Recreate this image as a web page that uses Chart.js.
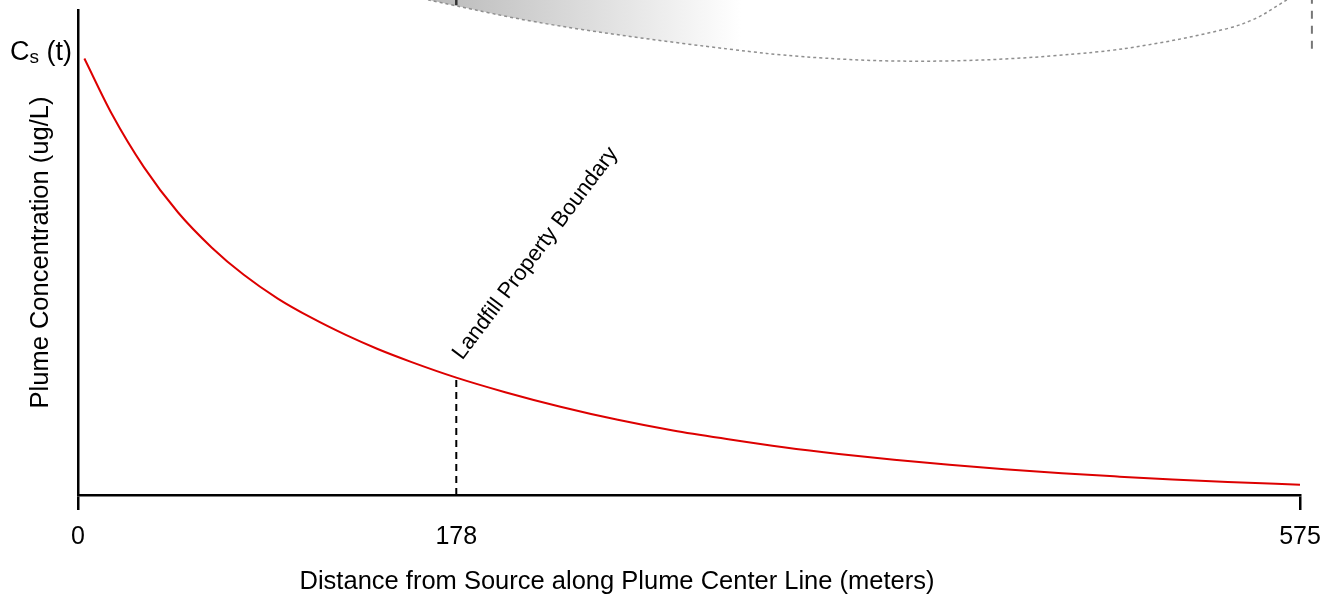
<!DOCTYPE html>
<html>
<head>
<meta charset="utf-8">
<script src="https://cdn.jsdelivr.net/npm/chart.js@4.4.1/dist/chart.umd.min.js"></script>
<style>
  html, body { margin: 0; padding: 0; background: #fff; }
  #wrap { width: 1342px; height: 598px; }
</style>
</head>
<body>
<div id="wrap"><canvas id="chart" width="1342" height="598"></canvas></div>
<script>
/* global Chart */
// distance along plume centre line (m) vs concentration (relative, ug/L)
const distance = [3, 16, 31, 47, 63, 78, 94, 110, 126, 141, 157, 178, 201, 227, 254, 280, 306, 332, 358, 384, 410, 436, 463, 489, 515, 541, 575];
const concentration = [90.0, 78.5, 67.6, 58.3, 51.0, 45.4, 40.5, 36.5, 33.0, 30.1, 27.4, 24.2, 21.2, 18.2, 15.5, 13.3, 11.5, 9.85, 8.45, 7.25, 6.22, 5.29, 4.48, 3.81, 3.19, 2.68, 2.12];
const xTicks = [0, 178, 575];
const tickMarks = [0, 575];

const boundaryX = 178;
const boundaryConc = 24.2;
const sourceConc = 92; // level of the C_s(t) label

// plan-view plume outline that peeks in at the top of the figure
const plumeEdgeX = [164.7, 176.4, 214.1, 261.1, 308.2, 339.7, 385.3, 433.8, 480.9, 504.4, 527.9, 551.4, 568.8];
const plumeEdgeY = [102.1, 101.0, 97.5, 94.4, 91.8, 90.3, 89.3, 89.7, 91.3, 92.8, 94.8, 97.3, 102.1];
const planBoundaryY = [101, 103];
const planEndX = 580.6;
const planEndY = [92, 103];

const FONT = "'Liberation Sans', Arial, Helvetica, sans-serif";
const $ = (id) => document.getElementById(id);

const plumePlugin = {
  id: "plume",
  beforeDatasetsDraw(chart) {
    const { ctx, scales: { x, y } } = chart;
    const pts = plumeEdgeX.map((v, i) => [x.getPixelForValue(v), y.getPixelForValue(plumeEdgeY[i])]);

    const tracePath = () => {
      ctx.moveTo(pts[0][0], pts[0][1]);
      for (let i = 1; i < pts.length - 1; i++) {
        const mx = (pts[i][0] + pts[i + 1][0]) / 2;
        const my = (pts[i][1] + pts[i + 1][1]) / 2;
        ctx.quadraticCurveTo(pts[i][0], pts[i][1], mx, my);
      }
      const last = pts[pts.length - 1];
      ctx.lineTo(last[0], last[1]);
    };

    ctx.save();
    // gradient fill
    const g = ctx.createLinearGradient(x.getPixelForValue(165), 0, x.getPixelForValue(312), 0);
    g.addColorStop(0, "#b9b9b9");
    g.addColorStop(1, "#ffffff");
    ctx.beginPath();
    ctx.moveTo(pts[0][0], -2);
    ctx.lineTo(pts[0][0], pts[0][1]);
    tracePath();
    ctx.lineTo(pts[pts.length - 1][0], -2);
    ctx.closePath();
    ctx.fillStyle = g;
    ctx.fill();

    // dotted outline
    ctx.beginPath();
    tracePath();
    ctx.setLineDash([3, 3]);
    ctx.lineWidth = 1.5;
    ctx.strokeStyle = "#8f8f8f";
    ctx.stroke();

    // end of the boundary line in plan view
    ctx.setLineDash([]);
    ctx.beginPath();
    ctx.moveTo(x.getPixelForValue(boundaryX), y.getPixelForValue(planBoundaryY[0]));
    ctx.lineTo(x.getPixelForValue(boundaryX), y.getPixelForValue(planBoundaryY[1]));
    ctx.lineWidth = 2.5;
    ctx.strokeStyle = "#333";
    ctx.stroke();

    // dashed line at far end
    ctx.beginPath();
    ctx.setLineDash([8, 7]);
    ctx.moveTo(x.getPixelForValue(planEndX), y.getPixelForValue(planEndY[0]));
    ctx.lineTo(x.getPixelForValue(planEndX), y.getPixelForValue(planEndY[1]));
    ctx.lineWidth = 2;
    ctx.strokeStyle = "#777";
    ctx.stroke();
    ctx.restore();
  },
};

const textPlugin = {
  id: "texts",
  afterDraw(chart) {
    const { ctx, scales: { x, y }, chartArea } = chart;
    ctx.save();
    ctx.fillStyle = "#000";

    // x axis title (sits left of centre in the original)
    ctx.font = `25.5px ${FONT}`;
    ctx.textAlign = "center";
    ctx.textBaseline = "middle";
    ctx.fillText("Distance from Source along Plume Center Line (meters)", 617, 582);

    // C_s (t)
    const big = `27px ${FONT}`;
    const small = `19px ${FONT}`;
    ctx.textAlign = "left";
    ctx.textBaseline = "alphabetic";
    ctx.font = big;
    const wC = ctx.measureText("C").width;
    const wT = ctx.measureText(" (t)").width;
    ctx.font = small;
    const wS = ctx.measureText("s").width;
    const right = chartArea.left - 6;
    const base = y.getPixelForValue(sourceConc) + 11;
    let cx = right - (wC + wS + wT);
    ctx.font = big;
    ctx.fillText("C", cx, base);
    cx += wC;
    ctx.font = small;
    ctx.fillText("s", cx, base + 3);
    cx += wS;
    ctx.font = big;
    ctx.fillText(" (t)", cx, base);

    // boundary label
    ctx.font = `22px ${FONT}`;
    ctx.translate(x.getPixelForValue(boundaryX) + 6, y.getPixelForValue(boundaryConc) - 17);
    ctx.rotate(-53 * Math.PI / 180);
    ctx.fillText("Landfill Property Boundary", 0, 0);
    ctx.restore();
  },
};

function makeChart() {
  return new Chart($("chart"), {
    type: "line",
    data: {
      datasets: [
        {
          data: distance.map((d, i) => ({ x: d, y: concentration[i] })),
          borderColor: "#dd0000",
          borderWidth: 2,
          pointRadius: 0,
          cubicInterpolationMode: "monotone",
        },
        {
          data: [{ x: boundaryX, y: 0 }, { x: boundaryX, y: boundaryConc }],
          borderColor: "#000",
          borderWidth: 2,
          borderDash: [7, 5],
          pointRadius: 0,
        },
      ],
    },
    options: {
      responsive: false,
      animation: false,
      layout: { padding: { top: 10, right: 42, left: 0, bottom: 0 } },
      plugins: { legend: { display: false }, tooltip: { enabled: false } },
      scales: {
        x: {
          type: "linear",
          min: 0,
          max: 575,
          afterBuildTicks: (s) => { s.ticks = xTicks.map((v) => ({ value: v })); },
          afterFit: (s) => { s.height = 103; },
          border: { display: true, color: "#000", width: 2.5 },
          grid: {
            drawOnChartArea: false,
            drawTicks: true,
            tickLength: 15,
            lineWidth: 2.5,
            color: (c) => (c.tick && tickMarks.includes(c.tick.value) ? "#000" : "rgba(0,0,0,0)"),
          },
          ticks: { color: "#000", font: { family: FONT, size: 25 }, padding: 12, maxRotation: 0, autoSkip: false },
        },
        y: {
          min: 0,
          max: 100,
          afterFit: (s) => { s.width = 78; },
          border: { display: true, color: "#000", width: 2.5 },
          grid: { display: false },
          ticks: { display: false },
          title: {
            display: true,
            text: "Plume Concentration (ug/L)",
            color: "#000",
            font: { family: FONT, size: 25.5 },
            padding: { top: 26, bottom: 0 },
          },
        },
      },
    },
    plugins: [plumePlugin, textPlugin],
  });
}

(function init() {
  try {
    makeChart();
  } catch (e) {
    document.body.innerHTML = `<pre style="white-space:pre-wrap;padding:16px;">${String(e && e.stack || e)}</pre>`;
  }
})();
</script>
</body>
</html>
